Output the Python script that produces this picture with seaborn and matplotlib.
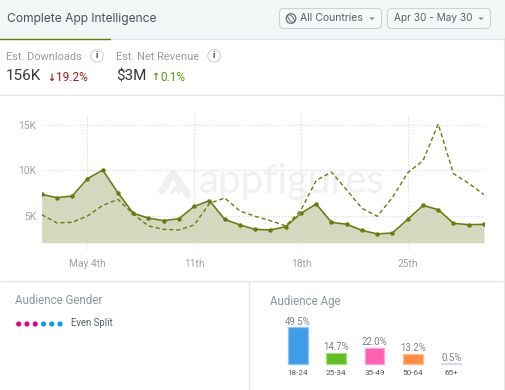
import matplotlib
matplotlib.use("Agg")
import matplotlib.pyplot as plt
from matplotlib.patches import FancyBboxPatch, Circle, Rectangle, Ellipse
import seaborn as sns
import pandas as pd

W, H = 506, 390

# --- data ---
days = list(range(30))
downloads = [7340, 6980, 7160, 9060, 10010, 7520, 5260, 4740, 4450, 4670,
             6020, 6650, 4600, 3980, 3500, 3430, 3790, 5260, 6280, 4270,
             4050, 3390, 2990, 3100, 4600, 6130, 5660, 4160, 4010, 4050]
revenue = [5110, 4200, 4270, 4960, 6130, 6790, 5180, 3870, 3500, 3430,
           3980, 6350, 6940, 5510, 4930, 4450, 3870, 5620, 8880, 9790,
           7820, 5810, 4930, 7010, 9720, 11040, 15070, 9610, 8550, 7310]
y_ticks = [5000, 10000, 15000]
y_tick_labels = ['5K', '10K', '15K']
x_ticks = [3, 10, 17, 24]
x_tick_labels = ['May 4th', '11th', '18th', '25th']

age_groups = ['18-24', '25-34', '35-49', '50-64', '65+']
age_share = [49.5, 14.7, 22.0, 13.2, 0.5]
age_colors = ['#3f9de8', '#5fbf20', '#ff5fae', '#ff8c42', '#d9d6f2']
age_edges = ['#8cc4f0', '#a6dc85', '#ffa3d0', '#ffbd94', '#d9d6f2']
gender_dots = ['#e6007e', '#e6007e', '#e6007e', '#0a9be8', '#0a9be8', '#0a9be8']

OLIVE = '#6b7a0f'
FILL = '#d4d8be'
GREY = '#9a9a9a'
LINE = '#e4e6e8'

sns.set_theme(style='white')
plt.rcParams['font.family'] = ['Roboto', 'DejaVu Sans']


def px_axes(fig, left, top, right, bottom, **kw):
    """axes placed by reference pixels"""
    return fig.add_axes([left / W, 1 - bottom / H, (right - left) / W, (bottom - top) / H], **kw)


fig = plt.figure(figsize=(W / 100, H / 100), dpi=100, facecolor='white')

# --- page furniture, in pixel coordinates ---
bg = px_axes(fig, 0, 0, W, H)
bg.set_xlim(0, W)
bg.set_ylim(H, 0)
bg.axis('off')
bg.add_patch(Rectangle((0, 0), W, 38.5, color='#f3f6f7', lw=0))
bg.plot([0, W], [38.7, 38.7], color=LINE, lw=0.9)
bg.plot([0, 110], [38.9, 38.9], color=OLIVE, lw=1.0)
bg.plot([0, 504], [95.3, 95.3], color=LINE, lw=0.9)
bg.plot([0, 504], [281.3, 281.3], color=LINE, lw=0.9)
bg.plot([249.4, 249.4], [281, H], color=LINE, lw=0.9)
bg.plot([504.5, 504.5], [38, H], color=LINE, lw=0.9)

bg.text(7.5, 18.7, 'Complete App Intelligence', family='Inter', fontsize=8.7, color='#4b5157', va='center')

for x0, x1 in [(279.5, 381.5), (387.5, 490.5)]:
    bg.add_patch(FancyBboxPatch((x0, 8.5), x1 - x0, 20, boxstyle='round,pad=0,rounding_size=4.5',
                                fc='#f6f8f9', ec='#cfd3d6', lw=0.8))
    bg.fill([x1 - 12.2, x1 - 6.8, x1 - 9.5], [17.4, 17.4, 20.2], color='#8c9196', lw=0)
bg.add_patch(Circle((291, 18.5), 4.8, fc='none', ec='#6a7075', lw=0.9))
bg.add_patch(Ellipse((291, 18.5), 4.2, 9.2, angle=-40, fc='none', ec='#6a7075', lw=0.7))
bg.text(300, 18.3, 'All Countries', family='Inter', fontsize=7.55, color='#5a6066', va='center')
bg.text(394, 18.3, 'Apr 30 - May 30', family='Inter', fontsize=7.25, color='#5a6066', va='center')

bg.text(6.5, 56.7, 'Est. Downloads', fontsize=7.9, color=GREY, va='center')
bg.text(116, 56.7, 'Est. Net Revenue', fontsize=7.9, color=GREY, va='center')
for cx in (97, 214):
    bg.add_patch(Circle((cx, 55.8), 6.3, fc='white', ec='#cfd3d6', lw=0.8))
    bg.text(cx, 55.9, 'i', fontsize=6.5, color='#444444', weight='bold', ha='center', va='center')

bg.text(6, 76, '156K', fontsize=11, color='#33383d', va='center')
bg.text(47, 77.5, '↓', fontsize=7, color='#a51a1a', weight='bold', va='center')
bg.text(56, 77.5, '19.2%', fontsize=8.5, color='#a51a1a', va='center')
bg.text(116, 76, '$3M', fontsize=11, color='#33383d', va='center')
bg.text(151, 76.5, '↑', fontsize=7, color='#4f9a10', weight='bold', va='center')
bg.text(160.5, 77.5, '0.1%', fontsize=8.5, color='#4f9a10', va='center')

bg.text(15.5, 301, 'Audience Gender', fontsize=8.3, color='#8e949a', va='center')
bg.text(270.5, 301, 'Audience Age', fontsize=8.3, color='#8e949a', va='center')
bg.text(71, 323.5, 'Even Split', fontsize=6.9, color='#5a6066', va='center')
bg.scatter([18.7 + 8.27 * i for i in range(len(gender_dots))], [324] * len(gender_dots),
           c=gender_dots, s=14, linewidths=0)

# watermark sits under the chart
wm = '#eff0f0'
bg.plot([162, 173, 188], [191, 173, 195], color=wm, lw=5.2, solid_capstyle='round', solid_joinstyle='round')
bg.plot([172, 176, 179], [192, 187, 192], color=wm, lw=2.5, solid_capstyle='round')
bg.text(199, 182, 'appfigures', family='Lato', fontsize=29, color=wm, va='center')

# --- trend chart ---
ax = px_axes(fig, 41.7, 115, 484, 249)
ax.patch.set_alpha(0)
frame = pd.DataFrame({'day': days, 'downloads': downloads, 'revenue': revenue})
ax.fill_between(days, downloads, 2030, color=FILL, lw=0, zorder=1)
sns.lineplot(data=frame, x='day', y='revenue', color=OLIVE, lw=1.0, linestyle=(0, (3, 2)), ax=ax, zorder=3)
sns.lineplot(data=frame, x='day', y='downloads', color=OLIVE, lw=1.15, marker='o', markersize=3.2,
             markeredgewidth=0, ax=ax, zorder=4)
ax.set_xlim(0, 29)
ax.set_ylim(1337, 16063)
ax.set_xticks(x_ticks, x_tick_labels)
ax.set_yticks(y_ticks, y_tick_labels)
ax.set_xlabel('')
ax.set_ylabel('')
ax.tick_params(length=0, labelsize=7.4, labelcolor='#a0a0a0')
ax.tick_params(axis='x', pad=7)
ax.tick_params(axis='y', pad=4)
ax.grid(True, color='#d8d8d8', linestyle=(0, (1, 1.6)), lw=0.8)
ax.set_axisbelow(True)
sns.despine(ax=ax, left=True, bottom=True)

# --- audience age bars ---
bars = px_axes(fig, 278.5, 320, 470.5, 363.7)
bars.patch.set_alpha(0)
sns.barplot(x=age_groups, y=age_share, hue=age_groups, palette=age_colors, legend=False,
            width=0.52, saturation=1, ax=bars)
for patch, edge in zip(bars.patches, age_edges):
    patch.set_edgecolor(edge)
    patch.set_linewidth(0.9)
    patch.set_clip_on(False)
for container in bars.containers:
    bars.bar_label(container, fmt='%.1f%%', fontsize=6.9, color='#7d8288', padding=0.5)
bars.set_xlim(-0.5, 4.5)
bars.set_ylim(0, 59.5)
bars.set_yticks([])
bars.tick_params(axis='x', length=0, labelsize=5.9, labelcolor='#50555a', pad=4.2)
sns.despine(ax=bars, left=True, bottom=True)

fig.savefig('out.png', dpi=100)
